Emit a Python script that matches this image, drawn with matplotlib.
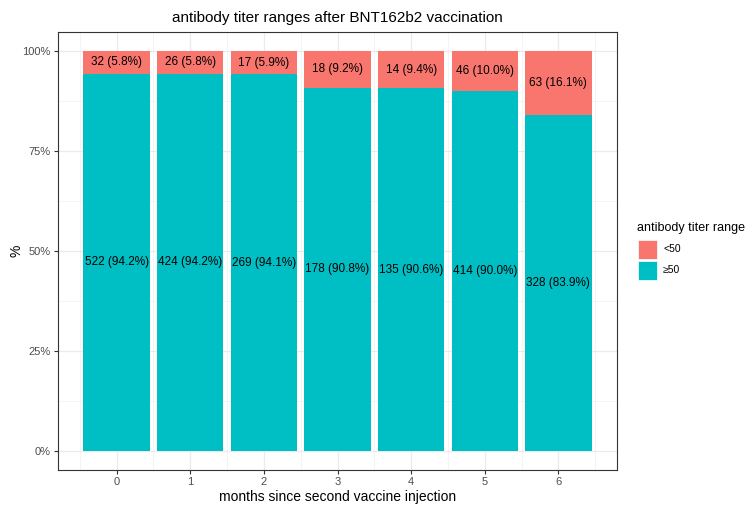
import matplotlib
matplotlib.use('Agg')
import matplotlib.pyplot as plt
import matplotlib.ticker as ticker
from matplotlib.patches import Rectangle
import numpy as np

plt.rcParams['font.family'] = ['Liberation Sans', 'DejaVu Sans']

months     = ["0", "1", "2", "3", "4", "5", "6"]
low_n      = [32, 26, 17, 18, 14, 46, 63]
low_pct    = [5.8, 5.8, 5.9, 9.2, 9.4, 10.0, 16.1]
high_n     = [522, 424, 269, 178, 135, 414, 328]
high_pct   = [94.2, 94.2, 94.1, 90.8, 90.6, 90.0, 83.9]
legend_labels = ["<50", "≥50"]

COLORS = {"<50": "#F8766D", "≥50": "#00BFC4"}
W, H = 756, 511

fig = plt.figure(figsize=(7.56, 5.11), dpi=100)
ax = fig.add_axes([57.7 / W, 41 / H, 559.6 / W, 438.3 / H])

x = np.arange(len(months))
ax.bar(x, high_pct, width=0.9, color=COLORS["≥50"], zorder=3)
ax.bar(x, low_pct, width=0.9, bottom=high_pct, color=COLORS["<50"], zorder=3)

for i in x:
    ax.text(i, high_pct[i] / 2, f"{high_n[i]} ({high_pct[i]:.1f}%)",
            ha="center", va="center", fontsize=8.5, color="black", zorder=4)
    ax.text(i, high_pct[i] + low_pct[i] / 2, f"{low_n[i]} ({low_pct[i]:.1f}%)",
            ha="center", va="center", fontsize=8.5, color="black", zorder=4)

ax.set_xlim(-0.8, 6.8)
ax.set_ylim(-4.8, 104.8)
ax.set_xticks(x)
ax.set_xticklabels(months)
ax.set_yticks([0, 25, 50, 75, 100])
ax.yaxis.set_major_formatter(ticker.FuncFormatter(lambda v, p: f"{v:.0f}%"))
ax.set_yticks([12.5, 37.5, 62.5, 87.5], minor=True)
ax.set_xticks(np.r_[-0.5, x + 0.5], minor=True)

ax.grid(True, which="major", color="#EBEBEB", linewidth=0.9, zorder=0)
ax.grid(True, which="minor", color="#F2F2F2", linewidth=0.6, zorder=0)
ax.tick_params(which="minor", length=0)
ax.tick_params(which="major", length=3, pad=2, color="#333333",
               labelcolor="#4D4D4D", labelsize=8)
for s in ax.spines.values():
    s.set_color("#333333")
    s.set_linewidth(0.8)

ax.set_xlabel("months since second vaccine injection", fontsize=10, labelpad=2)
ax.set_ylabel("%", fontsize=10, labelpad=-0.5)
ax.set_title("antibody titer ranges after BNT162b2 vaccination", fontsize=11, pad=7)

# legend drawn by hand, ggplot style
fig.text(637 / W, 1 - 228 / H, "antibody titer range", fontsize=9,
         ha="left", va="center")
for k, lab in enumerate(legend_labels):
    top = 240 + k * 20.5
    fig.add_artist(Rectangle((637.5 / W, 1 - (top + 19) / H), 19 / W, 19 / H,
                             transform=fig.transFigure,
                             facecolor=COLORS[lab], edgecolor="white", linewidth=0.5))
    fig.text(663 / W, 1 - (top + 9.5) / H, lab, fontsize=7.5,
             ha="left", va="center")

fig.savefig("out.png", dpi=100)
plt.close()
